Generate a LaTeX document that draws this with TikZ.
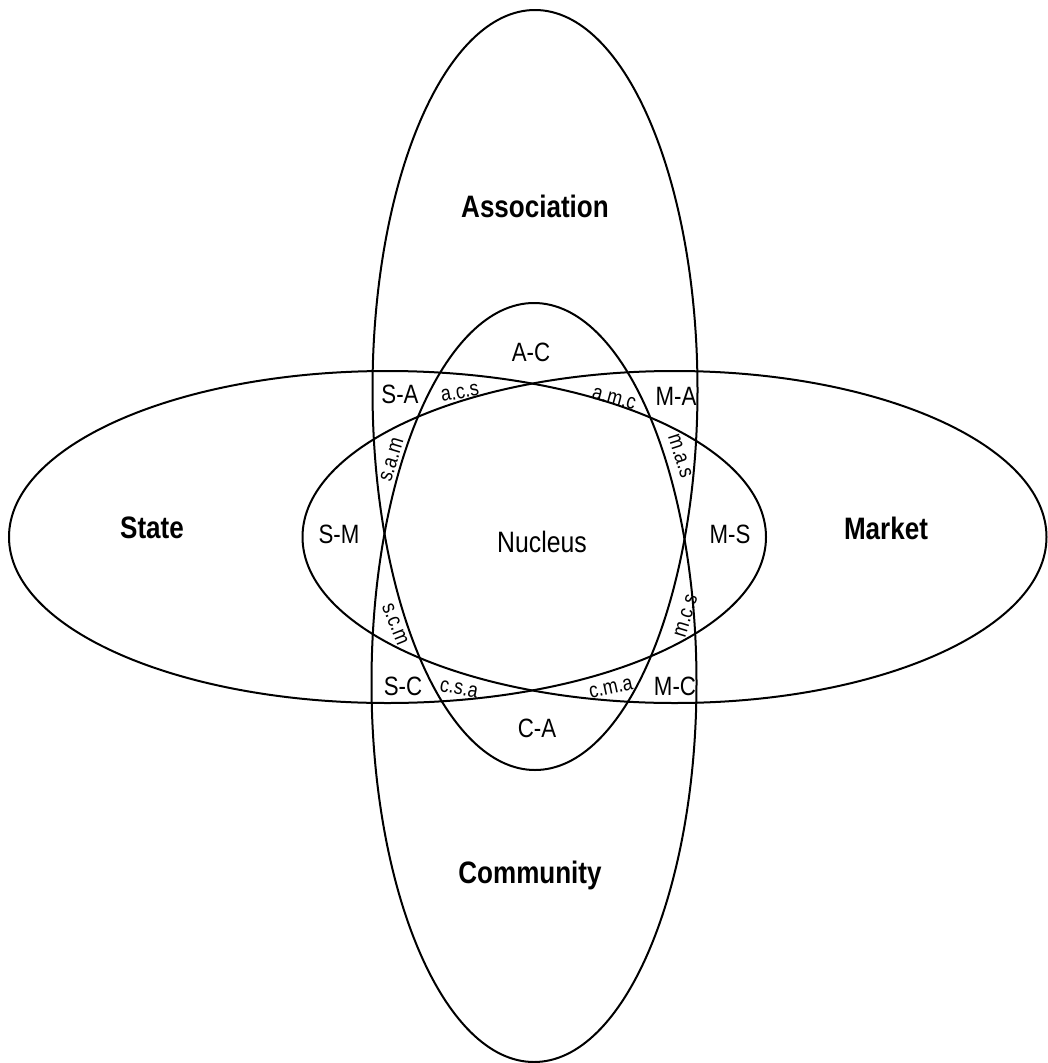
\documentclass[tikz,border=0pt]{standalone}
\usepackage{fontspec}
\setmainfont{Liberation Sans}
\newfontfamily\narrowsans[FakeStretch=0.84]{Liberation Sans}
\begin{document}
\begin{tikzpicture}[x=1pt,y=-1pt,
  ring/.style={draw=black,line width=2pt},
  sphere/.style={font=\narrowsans\bfseries\fontsize{31}{32}\selectfont,anchor=base,inner sep=0pt},
  core/.style={font=\narrowsans\fontsize{29.5}{30}\selectfont,anchor=base,inner sep=0pt},
  pair/.style={font=\narrowsans\fontsize{26.5}{28}\selectfont,anchor=base,inner sep=0pt},
  triple/.style={font=\narrowsans\fontsize{21.5}{22}\selectfont,anchor=center,inner sep=0pt}]
\useasboundingbox (0,0) rectangle (1047,1063);

% the four overlapping spheres
\draw[ring] (387.5,537) ellipse [x radius=378.5pt, y radius=166pt];   % State
\draw[ring] (674.5,537) ellipse [x radius=372pt, y radius=166pt];     % Market
\draw[ring] (535,390)   ellipse [x radius=162.5pt, y radius=380pt];   % Association
\draw[ring] (534,682.5) ellipse [x radius=162.5pt, y radius=379.5pt]; % Community

% sphere names
\node[sphere] (association) at (535,217) {Association};
\node[sphere] (community)   at (530,883) {Community};
\node[sphere] (state)       at (152,538) {State};
\node[sphere] (market)      at (886,539) {Market};
\node[core]   (nucleus)     at (542,552) {Nucleus};

% two-sphere overlaps
\node[pair] (sm) at (339,543) {S-M};
\node[pair] (ms) at (730,543) {M-S};
\node[pair] (ac) at (531,361) {A-C};
\node[pair] (ca) at (537,737) {C-A};
\node[pair] (sa) at (400,403) {S-A};
\node[pair] (ma) at (676,405) {M-A};
\node[pair] (sc) at (403,695) {S-C};
\node[pair] (mc) at (675,695) {M-C};

% three-sphere overlaps
\node[triple,rotate=10]  (acs) at (460,393) {a.c.s};
\node[triple,rotate=-15] (amc) at (614,399) {a.m.c};
\node[triple,rotate=73]  (sam) at (392,460) {s.a.m};
\node[triple,rotate=-72] (mas) at (680,456) {m.a.s};
\node[triple,rotate=-68] (scm) at (395,624) {s.c.m};
\node[triple,rotate=73]  (mcs) at (686,616) {m.c.s};
\node[triple,rotate=-10] (csa) at (459,689) {c.s.a};
\node[triple,rotate=12]  (cma) at (611,688) {c.m.a};
\end{tikzpicture}
\end{document}
